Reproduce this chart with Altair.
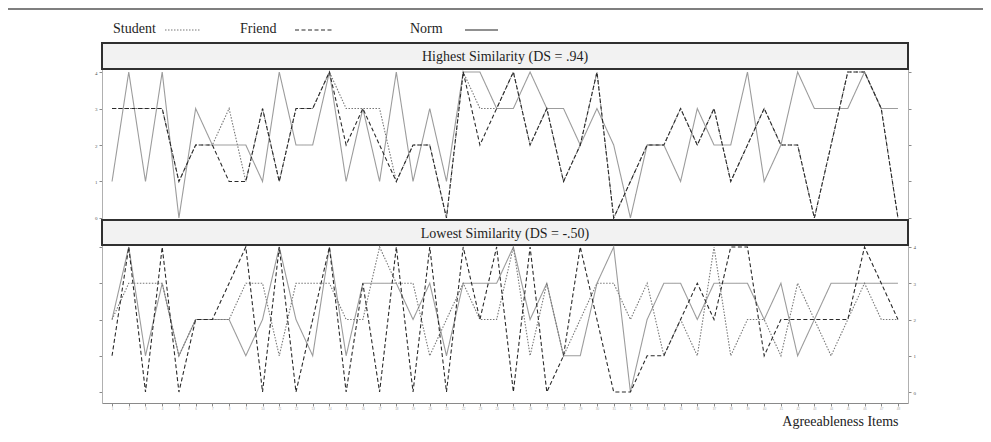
import altair as alt
import pandas as pd

items = list(range(1, 49))
series_order = ["Norm", "Student", "Friend"]

top_norm =    [1,4,1,4,0,3,2,2,2,1,4,2,2,4,1,3,1,4,1,3,1,4,4,3,3,4,3,3,2,3,2,0,2,2,1,3,2,2,4,1,2,4,3,3,3,4,3,3]
top_friend =  [3,3,3,3,1,2,2,1,1,3,1,3,3,4,2,3,2,1,2,2,0,4,2,3,4,2,3,1,2,4,0,1,2,2,3,2,3,1,2,3,2,2,0,2,4,4,3,0]
top_student = [3,3,3,3,1,2,2,3,1,3,1,3,3,4,3,3,3,1,2,2,0,4,3,3,4,2,3,1,2,4,0,1,2,2,3,2,3,1,2,3,2,2,0,2,4,4,3,0]

bot_norm =    [2,4,1,3,1,2,2,2,1,2,4,2,1,4,1,3,3,3,2,3,1,3,3,3,4,2,3,1,1,3,4,0,2,3,3,2,3,3,3,2,3,1,2,3,3,3,3,3]
bot_friend =  [1,4,0,4,0,2,2,3,4,0,4,0,2,4,0,3,0,4,0,4,0,4,2,4,0,4,0,1,4,2,0,0,1,1,2,3,2,4,4,1,2,2,2,2,2,4,3,2]
bot_student = [2,3,3,3,1,2,2,2,3,3,1,3,3,3,2,2,4,3,3,1,2,3,2,2,4,1,3,1,2,3,3,2,3,1,2,1,4,1,2,2,1,3,2,1,2,3,2,2]

top_title = "Highest Similarity (DS = .94)"
bot_title = "Lowest Similarity (DS = -.50)"
x_title = "Agreeableness Items"
y_ticks = [0, 1, 2, 3, 4]


def panel_df(norm, friend, student):
    rows = []
    for s, vals in (("Norm", norm), ("Student", student), ("Friend", friend)):
        for it, v in zip(items, vals):
            rows.append({"item": it, "value": v, "series": s})
    return pd.DataFrame(rows)


top_df = panel_df(top_norm, top_friend, top_student)
bot_df = panel_df(bot_norm, bot_friend, bot_student)

W, H = 806, 334
SERIF = "Liberation Serif"

styles = {
    "Norm": dict(color="#9c9c9c", dash=[1, 0], width=1.1),
    "Student": dict(color="#777777", dash=[1.5, 1.5], width=1.1),
    "Friend": dict(color="#2a2a2a", dash=[4, 2.5], width=1.1),
}

xaxis = alt.Axis(values=items, tickSize=3, labelFontSize=3, labelColor="#aaaaaa",
                 labelPadding=1, domainColor="#8a8a8a", tickColor="#8a8a8a", grid=False,
                 title=x_title, titleFont=SERIF, titleFontSize=14, titleFontWeight="normal",
                 titleColor="#222222", titleAlign="right", titleX=796, titleY=22,
                 titleBaseline="alphabetic")
xenc = alt.X("item:Q", scale=alt.Scale(domain=[0.4, 48.6], nice=False, zero=False), axis=xaxis)


def yaxis(orient, labels):
    return alt.Axis(orient=orient, values=y_ticks, labels=labels, tickSize=3,
                    labelFontSize=5, labelFont=SERIF, labelColor="#555555", labelPadding=2,
                    domainColor="#b0b0b0", tickColor="#8a8a8a", grid=False, title=None)


def panel(df, ydomain, yrange, orient_labels):
    ysc = alt.Scale(domain=ydomain, range=yrange, nice=False, zero=False)
    layers = []
    for s in series_order:
        st = styles[s]
        layers.append(
            alt.Chart(df).transform_filter(alt.datum.series == s)
            .mark_line(color=st["color"], strokeDash=st["dash"], strokeWidth=st["width"])
            .encode(x=xenc, y=alt.Y("value:Q", scale=ysc, axis=yaxis(orient_labels, True)))
        )
    main = alt.layer(*layers)
    other = "right" if orient_labels == "left" else "left"
    extra = alt.Chart(df).mark_line(opacity=0).encode(
        x=xenc, y=alt.Y("value:Q", scale=ysc, axis=yaxis(other, False)), detail="series:N")
    return main, extra


top_main, top_extra = panel(top_df, [-0.0548, 4.0822], [151, 0], "left")
bot_main, bot_extra = panel(bot_df, [-0.303, 4.055], [334, 176], "right")

one = pd.DataFrame({"k": [0]})


def strip(y0, y1, text):
    r = alt.Chart(one).mark_rect(fill="#f2f2f2", stroke="#303030", strokeWidth=2).encode(
        x=alt.value(0), x2=alt.value(W), y=alt.value(y0), y2=alt.value(y1))
    t = alt.Chart(one).mark_text(font=SERIF, fontSize=14, color="#1e1e1e", baseline="middle",
                                 align="center", text=text).encode(
        x=alt.value(W / 2), y=alt.value((y0 + y1) / 2 + 1))
    return r + t


top_strip = strip(-26, 0, top_title)
bot_strip = strip(151, 176, bot_title)

legend_layers = []
leg = [("Student", 11, 63, 98), ("Friend", 138, 193, 230), ("Norm", 308, 363, 396)]
for name, tx, lx0, lx1 in leg:
    st = styles[name]
    legend_layers.append(
        alt.Chart(one).mark_text(font=SERIF, fontSize=14, color="#1e1e1e", align="left",
                                 baseline="alphabetic", text=name).encode(
            x=alt.value(tx), y=alt.value(-36)))
    legend_layers.append(
        alt.Chart(one).mark_rule(color=st["color"] if name != "Norm" else "#222222",
                                 strokeDash=st["dash"], strokeWidth=1.2).encode(
            x=alt.value(lx0), x2=alt.value(lx1), y=alt.value(-39)))

top_line = alt.Chart(one).mark_rule(color="#555555", strokeWidth=1.5).encode(
    x=alt.value(-94), x2=alt.value(881), y=alt.value(-60))

chart = alt.layer(
    top_line, *legend_layers, top_strip, bot_strip,
    top_main, top_extra, bot_main, bot_extra
).resolve_scale(y="independent").properties(
    width=W, height=H,
    autosize=alt.AutoSizeParams(type="none"),
    padding={"left": 94, "top": 61, "right": 75, "bottom": 28},
).configure_view(stroke=None).configure(background="white")

chart.save("out.html", embed_options={"renderer": "svg", "actions": False})
